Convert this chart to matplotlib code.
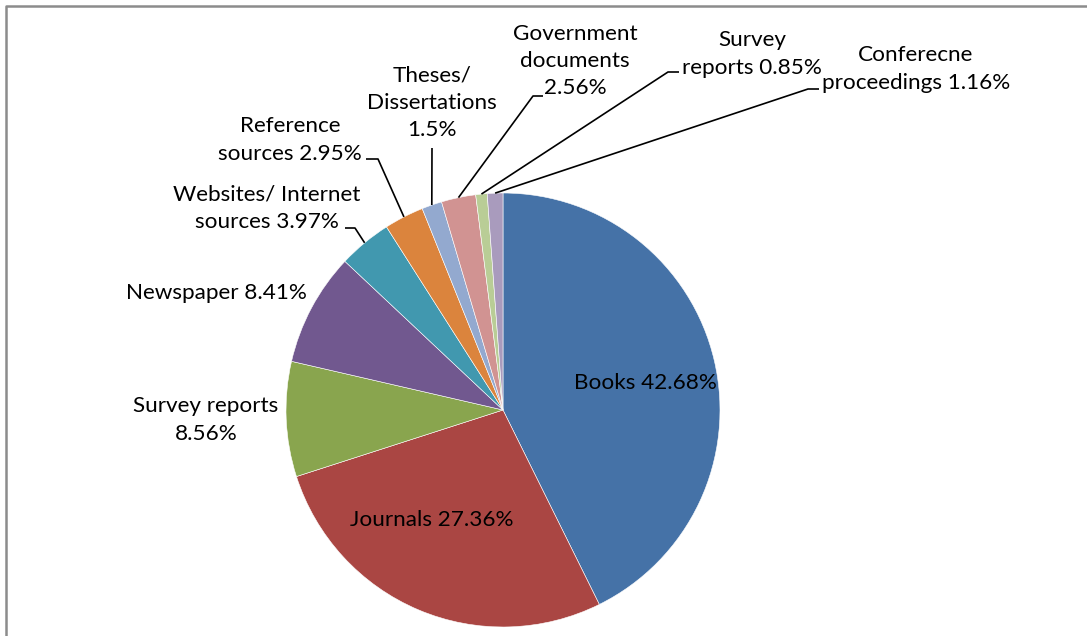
import matplotlib.pyplot as plt
import numpy as np

# share of each source type, clockwise from 12 o'clock
sources = ["Books", "Journals", "Survey reports", "Newspaper",
           "Websites/ Internet sources", "Reference sources",
           "Theses/ Dissertations", "Government documents",
           "Survey reports", "Conferecne proceedings"]
shares = [42.68, 27.36, 8.56, 8.41, 3.97, 2.95, 1.5, 2.56, 0.85, 1.16]
label_texts = ["Books 42.68%", "Journals 27.36%", "Survey reports\n8.56%",
               "Newspaper 8.41%", "Websites/ Internet\nsources 3.97%",
               "Reference\nsources 2.95%", "Theses/\nDissertations\n1.5%",
               "Government\ndocuments\n2.56%", "Survey\nreports 0.85%",
               "Conferecne\nproceedings 1.16%"]
colors = ["#4572A7", "#AA4643", "#89A54E", "#71588F", "#4198AF",
          "#DB843D", "#93A9CF", "#D19392", "#B9CD96", "#A99BBD"]

W, H = 1087, 636
CX, CY, R = 503, 410, 217   # pie centre / radius in pixels (y from top)

# text centres and leader elbows, pixel coords (y from top)
text_pos = [(645, 383), (432, 520), (206, 420), (216, 293), (267, 208),
            (290, 140), (432, 103), (575, 61), (752, 54), (916, 69)]
leaders = {
    4: [(366, 243), (355, 228), (345, 228)],
    5: [(405, 217), (378, 159), (366, 159)],
    6: [(432, 205), (432, 148)],
    7: [(458, 197), (533, 96), (543, 96)],
    8: [(481, 194), (668, 72), (679, 72)],
    9: [(495, 193), (808, 89), (819, 89)],
}


def fy(y):
    return H - y


fig = plt.figure(figsize=(W / 100, H / 100), dpi=100)
ax = fig.add_axes([0, 0, 1, 1])

wedges, _ = ax.pie(shares, colors=colors, startangle=90, counterclock=False,
                   center=(CX, fy(CY)), radius=R,
                   wedgeprops=dict(edgecolor="white", linewidth=0.4))
ax.set_xlim(0, W)
ax.set_ylim(0, H)
ax.set_aspect("equal")
ax.axis("off")

# leader lines start at each wedge's mid-angle on the rim
for i, pts in leaders.items():
    w = wedges[i]
    ang = np.deg2rad((w.theta1 + w.theta2) / 2)
    x0 = CX + R * np.cos(ang)
    y0 = fy(CY) + R * np.sin(ang)
    xs = [x0] + [p[0] for p in pts[1:]]
    ys = [y0] + [fy(p[1]) for p in pts[1:]]
    ax.plot(xs, ys, color="black", lw=1.2, solid_capstyle="butt")

for txt, (tx, ty) in zip(label_texts, text_pos):
    ax.text(tx, fy(ty), txt, ha="center", va="center", multialignment="center",
            fontsize=16.2, family=["Lato", "DejaVu Sans"], linespacing=1.45)

# chart frame
ax.plot([6, 6, W], [0, fy(6), fy(6)], color="#8c8c8c", lw=1.8)

fig.savefig("out.png", dpi=100)
